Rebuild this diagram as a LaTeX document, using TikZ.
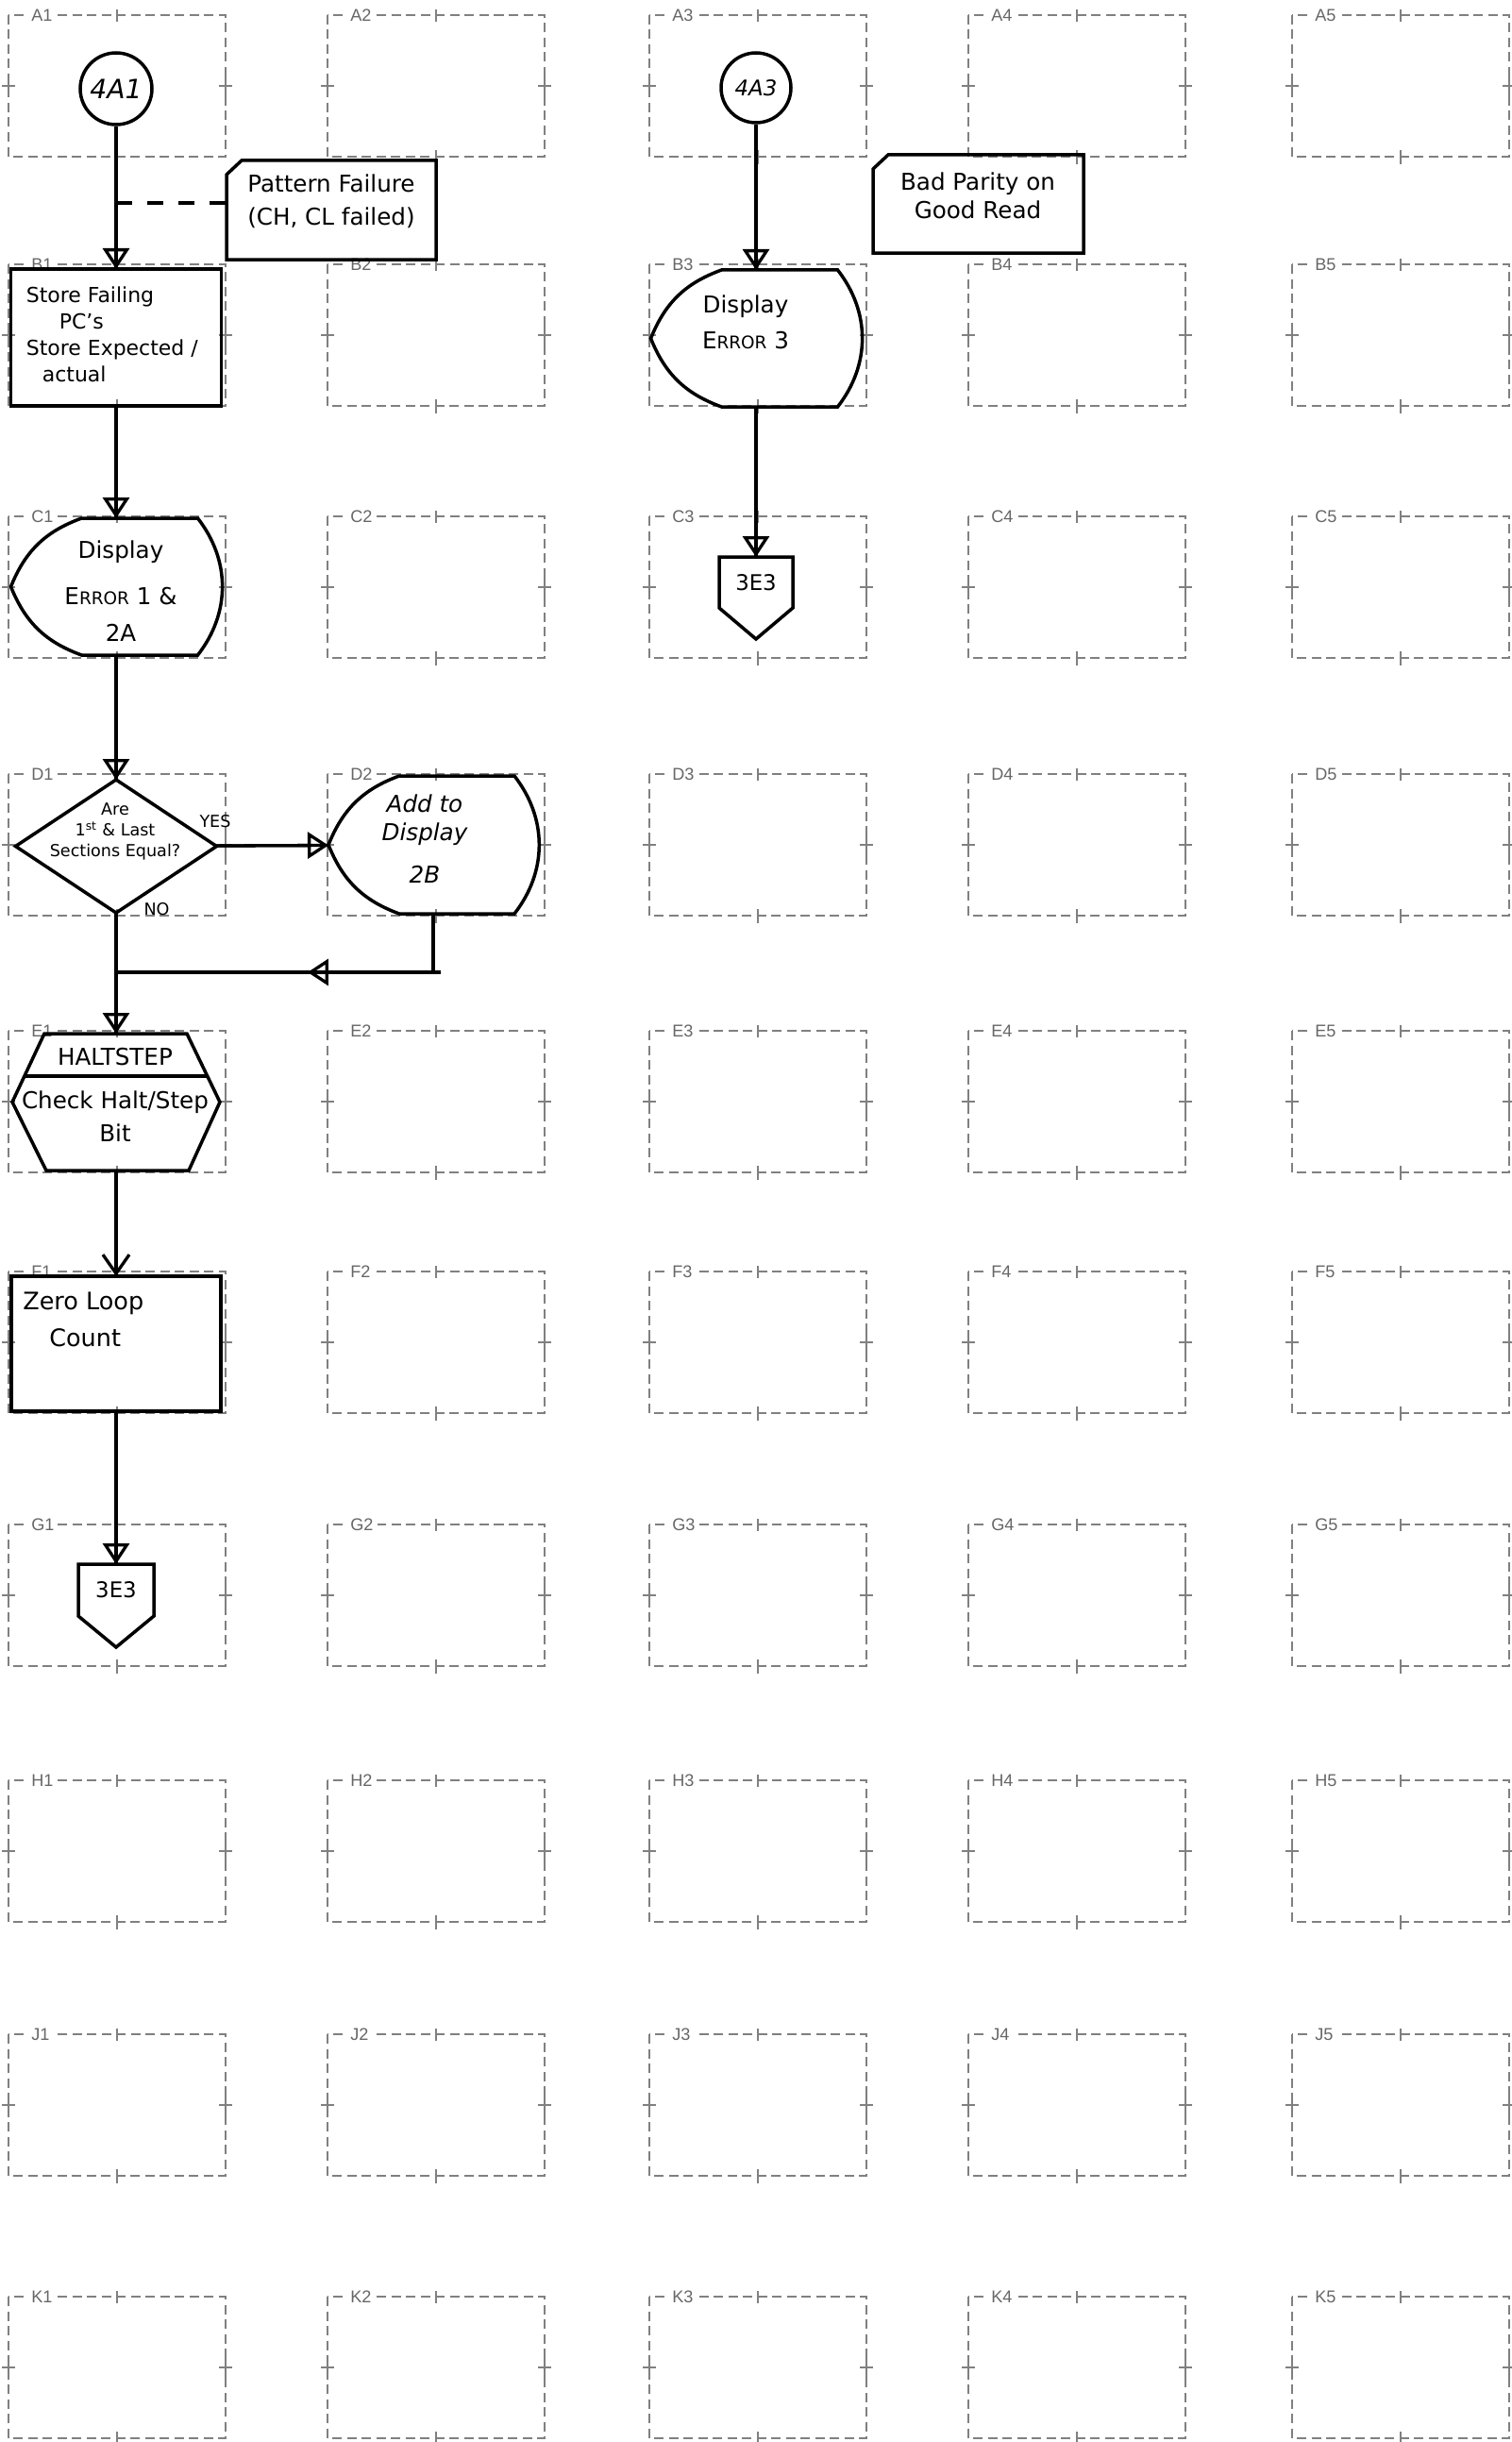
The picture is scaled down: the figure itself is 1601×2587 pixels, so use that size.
\documentclass[tikz,border=0pt]{standalone}
\usepackage{fontspec}
\setmainfont{DejaVu Sans}
\newfontfamily\gridfont{Liberation Sans}
\usetikzlibrary{arrows.meta,calc,decorations.markings}

\newcommand{\hand}[2]{\fontsize{#1}{#2}\selectfont}
\newcommand{\lowcap}[1]{{\fontsize{10.5}{10.5}\selectfont #1}}

\newcommand{\dispoutline}[1]{%
  \draw[sym] (#1.west) to[bend left=24] ($(#1.north west)+(75,0)$)
    -- ($(#1.north east)+(-25,0)$) to[bend left=38] ($(#1.south east)+(-25,0)$)
    -- ($(#1.south west)+(75,0)$) to[bend left=24] (#1.west) -- cycle;}
\newcommand{\hexoutline}[1]{%
  \draw[sym] (#1.west) -- ($(#1.north west)+(34,0)$) coordinate (#1-nw)
    -- ($(#1.north east)+(-35,0)$) coordinate (#1-ne) -- (#1.east)
    -- ($(#1.south east)+(-33,0)$) -- ($(#1.south west)+(36,0)$) -- cycle;
  \draw[sym] ($(#1-nw)!0.62!(#1.west)$) -- ($(#1-ne)!0.62!(#1.east)$);}
\newcommand{\offpage}[1]{%
  \draw[sym] (#1.north west) -- (#1.north east) -- (#1.south east)
    -- ($(#1.south)+(0,-33)$) -- (#1.south west) -- cycle;}
\newcommand{\noteoutline}[1]{%
  \draw[sym] ($(#1.north west)+(0,-15)$) -- ($(#1.north west)+(16,0)$)
    -- (#1.north east) -- (#1.south east) -- (#1.south west) -- cycle;}

\begin{document}
\begin{tikzpicture}[x=0.2mm,y=0.2mm,
  cell/.style={draw=black!50,line width=0.25mm,dash pattern=on 2mm off 1.1mm},
  celltick/.style={draw=black!50,line width=0.3mm},
  celltag/.style={anchor=west,fill=white,inner xsep=0.8mm,inner ysep=0.2mm,text=black!60,font=\gridfont\fontsize{10.3}{12}\selectfont},
  sym/.style={line width=0.7mm},
  blank/.style={inner sep=0pt,outer sep=0pt},
  hand/.style={align=center,inner sep=0pt,font=\hand{14}{20}},
  flow/.style={line width=0.66mm,-{Triangle[open,length=4.4mm,width=5.6mm]},postaction={draw,-}},
  vflow/.style={line width=0.66mm,-{Straight Barb[length=4mm,width=5.6mm]}},
  back/.style={line width=0.66mm,postaction={decorate},decoration={markings,
    mark=at position 0.41 with {\arrow{Triangle[open,length=4.4mm,width=5.6mm]}}}}]
\useasboundingbox (0,0) rectangle (1601,-2587);

\foreach \row/\ytop in {A/16,B/280,C/547,D/820,E/1092,F/1347,G/1615,H/1886,J/2155,K/2433}
  \foreach \col/\xl in {1/9,2/347,3/688,4/1026,5/1369} {
    \draw[cell] (\xl,-\ytop) rectangle ++(230,-150);
    \draw[celltick] (\xl+115,-\ytop+6) -- (\xl+115,-\ytop-7)
      (\xl+115,-\ytop-143) -- (\xl+115,-\ytop-158)
      (\xl-7,-\ytop-75) -- (\xl+7,-\ytop-75) (\xl,-\ytop-63) -- (\xl,-\ytop-87)
      (\xl+223,-\ytop-75) -- (\xl+237,-\ytop-75) (\xl+230,-\ytop-63) -- (\xl+230,-\ytop-87);
    \node[celltag] (cell-\row\col) at (\xl+20,-\ytop) {\row\col};
  }

% column 1
\node[circle,draw,sym,minimum size=15.2mm,inner sep=0pt,font=\itshape\hand{16}{16}] (a1) at (123,-94) {4A1};
\node[blank,draw,sym,minimum width=44.6mm,minimum height=29mm] (b1) at (123,-357.5) {};
\node[hand,align=left,anchor=north west,font=\hand{12.5}{16}] (b1txt) at ($(b1.north west)+(16,-18)$)
  {Store Failing\\\hspace*{7mm}PC's\\Store Expected /\\\hspace*{3.4mm}actual};
\node[blank,minimum width=44.6mm,minimum height=29mm] (c1) at (123,-621.5) {};
\dispoutline{c1}
\node[hand,font=\hand{14}{22}] (c1txt) at (128,-626) {Display\\[2mm]E\lowcap{RROR} 1 \&\\2A};
\node[blank,minimum width=42.6mm,minimum height=28.2mm] (d1) at (123,-896.5) {};
\draw[sym] (d1.north) -- (d1.east) -- (d1.south) -- (d1.west) -- cycle;
\node[hand,font=\hand{10}{12.5}] (d1txt) at (122,-881) {Are\\1\textsuperscript{st} \& Last\\Sections Equal?};
\node[font=\hand{10}{12}] (yes) at (228,-870) {YES};
\node[font=\hand{10}{12}] (no) at (166,-963) {NO};
\node[blank,minimum width=44mm,minimum height=29mm] (e1) at (123,-1167.5) {};
\hexoutline{e1}
\node[hand,font=\hand{14}{20}] (e1txt) at (122,-1160) {HALTSTEP\\[2mm]Check Halt/Step\\Bit};
\node[blank,draw,line width=0.85mm,minimum width=44.4mm,minimum height=28.6mm] (f1) at (123,-1423.5) {};
\node[hand,align=left,anchor=north west,font=\hand{14.5}{22}] (f1txt) at ($(f1.north west)+(12,-17)$)
  {Zero Loop\\\hspace*{5.6mm}Count};
\node[blank,minimum width=16mm,minimum height=11mm,font=\hand{13}{13}] (g1) at (123,-1684.5) {3E3};
\offpage{g1}

% column 2
\node[blank,minimum width=44.4mm,minimum height=29.2mm] (d2) at (459,-895) {};
\dispoutline{d2}
\node[hand,font=\itshape\hand{14}{17}] (d2txt) at (450,-889) {Add to\\Display\\[3mm]2B};
\node[blank,minimum width=44.4mm,minimum height=21mm] (pat) at (351,-222.5) {};
\noteoutline{pat}
\node[hand,align=left,font=\hand{14}{19.8}] (pattxt) at (351,-213) {Pattern Failure\\(CH, CL failed)};

% column 3
\node[circle,draw,sym,minimum size=14.8mm,inner sep=0pt,font=\itshape\hand{13}{13}] (a3) at (801,-93) {4A3};
\node[blank,minimum width=44.6mm,minimum height=29mm] (b3) at (801,-358.5) {};
\dispoutline{b3}
\node[hand,font=\hand{14}{21.5}] (b3txt) at (790,-341) {Display\\E\lowcap{RROR} 3};
\node[blank,minimum width=15.6mm,minimum height=10.8mm,font=\hand{13}{13}] (c3) at (801,-617) {3E3};
\offpage{c3}
\node[blank,minimum width=44.6mm,minimum height=20.8mm] (bad) at (1036.5,-216) {};
\noteoutline{bad}
\node[hand,font=\hand{14}{17}] (badtxt) at (1036,-207) {Bad Parity on\\Good Read};

% connectors
\draw[flow] (a1) -- (b1);
\draw[flow] (b1) -- (c1);
\draw[flow] (c1) -- (d1);
\draw[flow] (d1) -- (d2);
\draw[flow] (d1) -- (e1);
\draw[vflow] (e1) -- (f1);
\draw[flow] (f1) -- (g1);
\draw[flow] (a3) -- (b3);
\draw[flow] (b3) -- (c3);

\coordinate (patjoin) at (123,-215);
\draw[line width=0.66mm,dash pattern=on 3.4mm off 3.2mm] (patjoin) -- (patjoin -| pat.west);

\coordinate (fb) at ($(d2.south)+(0,-62)$);
\coordinate (fbend) at ($(fb)+(8,0)$);
\coordinate (fbjoin) at (d1.south |- fb);
\draw[line width=0.66mm] (d2.south) -- (fb);
\draw[back] (fbend) -- (fbjoin);
\end{tikzpicture}
\end{document}
